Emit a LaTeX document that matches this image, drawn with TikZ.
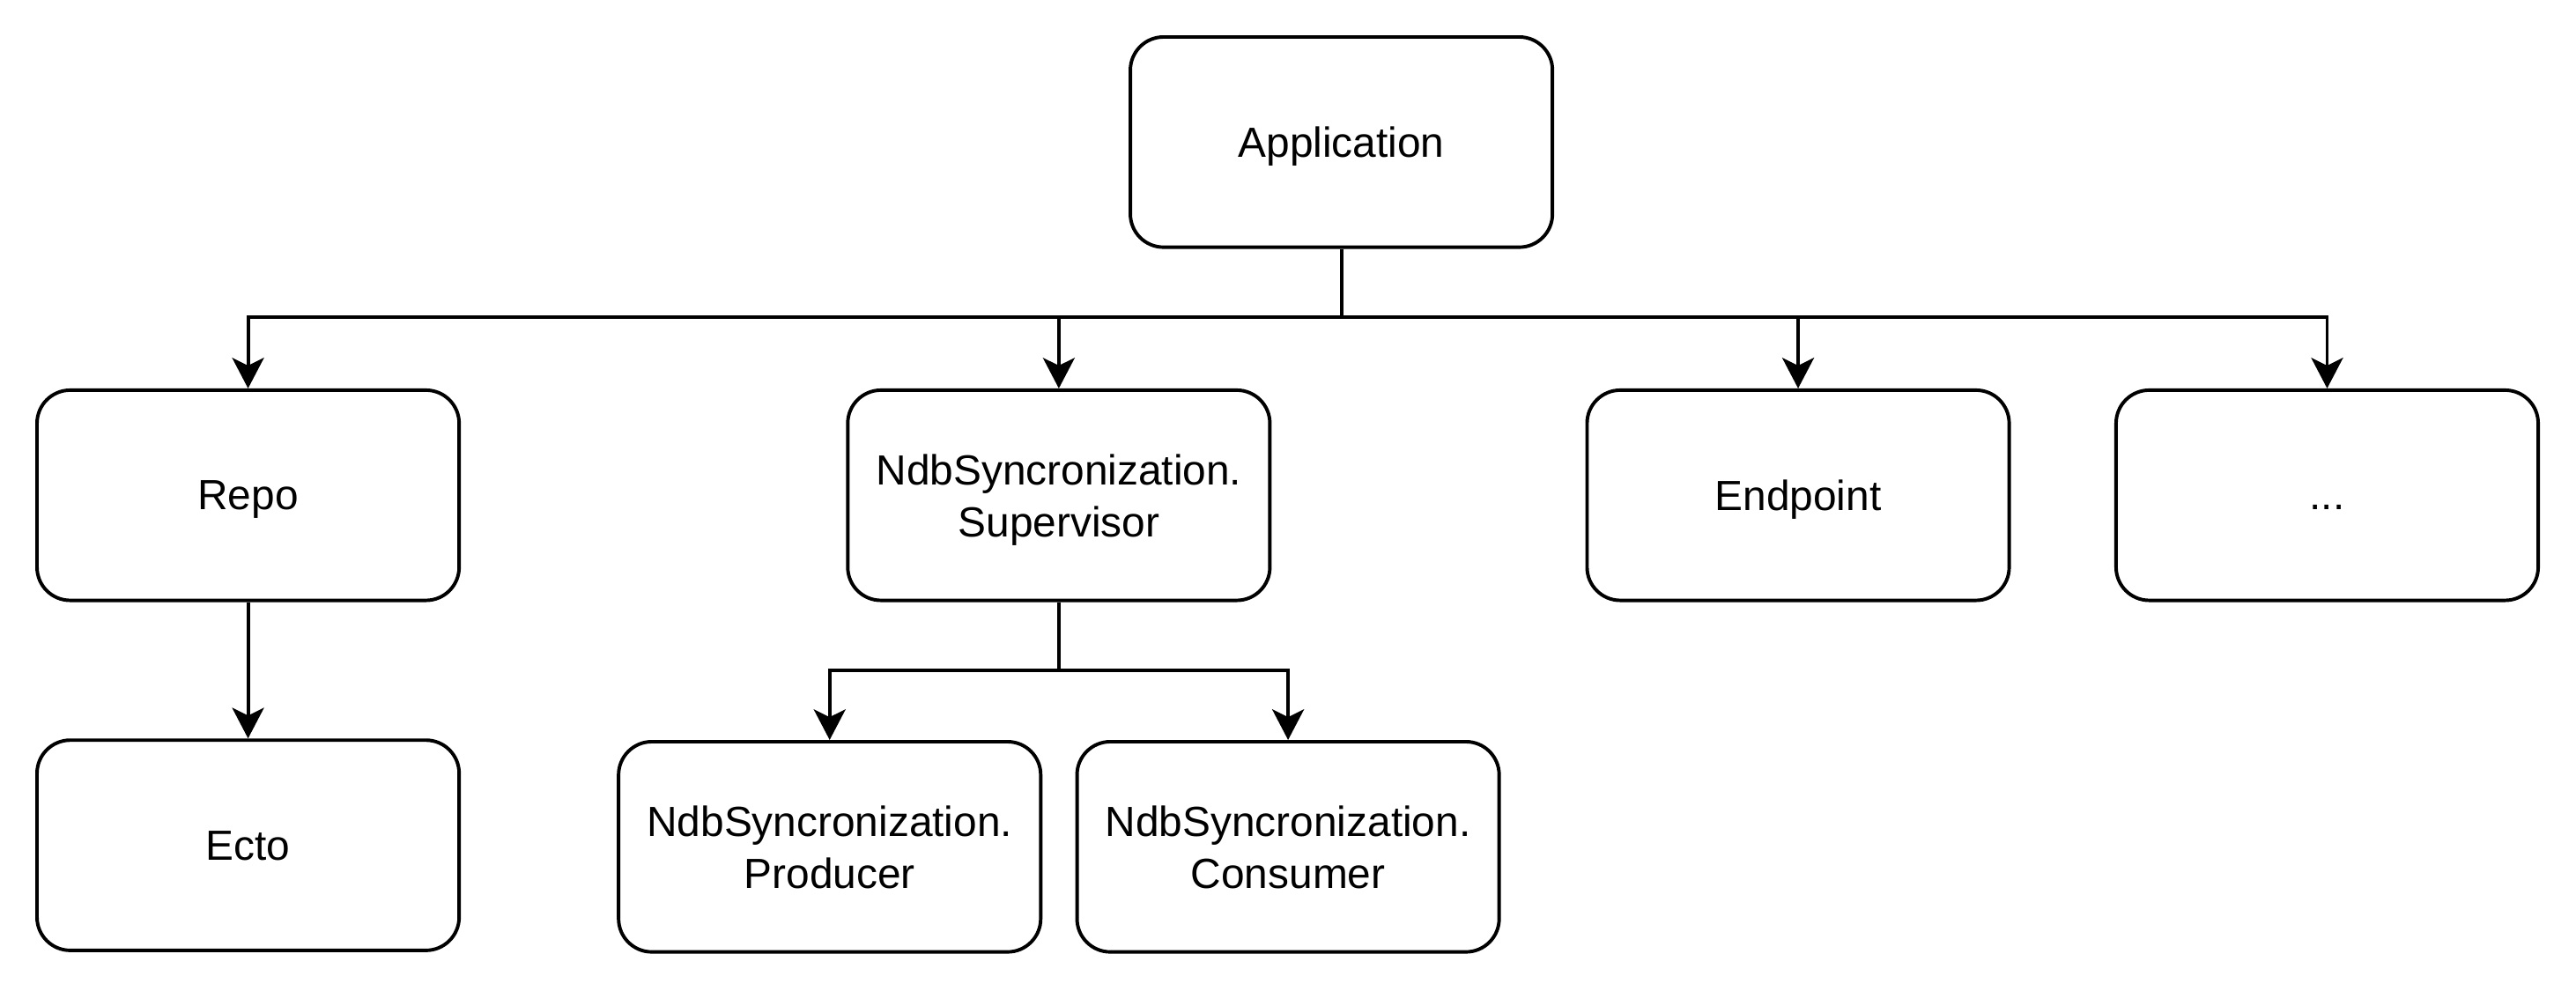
\documentclass[tikz,border=0pt]{standalone}
\usepackage{fontspec}
\setmainfont{Liberation Sans}
\usetikzlibrary{positioning,arrows.meta}

\begin{document}
\begin{tikzpicture}[x=0.02cm, y=-0.02cm]
        \tikzstyle{every node}=[draw, line width=1.2pt, rounded corners=11.5pt, minimum width=5.14cm, minimum height=2.56cm, align=center, text depth=0pt, font=\fontsize{14.6}{18}\selectfont]
        \tikzstyle{link}=[line width=1.2pt, -{Stealth[length=10.6pt, width=11pt, inset=2.7pt]}]
        \useasboundingbox (0,0) rectangle (1568,602.8);

        \node   (app)    at (816.5,86.5)   {Application};
        \node   (repo)   at (151,301.5)    {Repo};
        \node   (sup)    at (644.5,301.5)  {NdbSyncronization.\\Supervisor};
        \node   (endp)   at (1094.5,301.5) {Endpoint};
        \node   (more)   at (1416.5,301.5) {\vphantom{A}...};
        \node   (ecto)   [below=1.66cm of repo] {Ecto};
        \node   (prod)   at (505,515.5)    {NdbSyncronization.\\Producer};
        \node   (cons)   [right=0.4cm of prod] {NdbSyncronization.\\Consumer};

        \coordinate (appbus) at (816.5,193);
        \coordinate (supbus) at (644.5,408);

        \draw[link] (app.south) -- (appbus) -| (repo.north);
        \draw[link] (appbus) -| (sup.north);
        \draw[link] (appbus) -| (endp.north);
        \draw[link] (appbus) -| (more.north);
        \draw[link] (repo) -- (ecto);
        \draw[link] (sup.south) -- (supbus) -| (prod.north);
        \draw[link] (supbus) -| (cons.north);
    \end{tikzpicture}
\end{document}
